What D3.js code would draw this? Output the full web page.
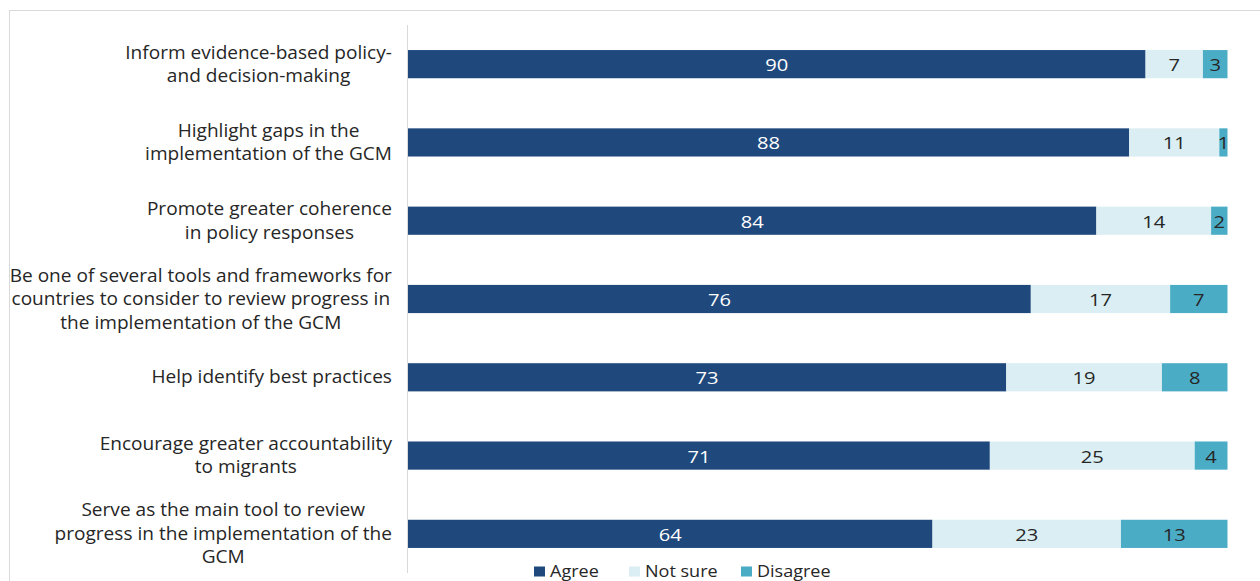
<!DOCTYPE html>
<html>
<head>
<meta charset="utf-8">
<script src="https://cdn.jsdelivr.net/npm/d3@7"></script>
<style>
  html, body { margin: 0; padding: 0; background: #fff; }
  svg { display: block; font-family: "Open Sans", sans-serif; }
</style>
</head>
<body>
<svg id="chart" width="1260" height="581"></svg>
<script>
// Survey statements (each a list of wrapped lines) and the share of responses
const categories = [
  ["Inform evidence-based policy-", "and decision-making"],
  ["Highlight gaps in the", "implementation of the GCM"],
  ["Promote greater coherence", "in policy responses"],
  ["Be one of several tools and frameworks for", "countries to consider to review progress in", "the implementation of the GCM"],
  ["Help identify best practices"],
  ["Encourage greater accountability", "to migrants"],
  ["Serve as the main tool to review", "progress in the implementation of the", "GCM"]
];
const agree    = [90, 88, 84, 76, 73, 71, 64];
const notSure  = [7, 11, 14, 17, 19, 25, 23];
const disagree = [3, 1, 2, 7, 8, 4, 13];
const seriesNames = ["Agree", "Not sure", "Disagree"];
const seriesColors = ["#1f497d", "#daeef3", "#4bacc6"];
const labelColors = ["#ffffff", "#262626", "#262626"];

const svg = d3.select("#chart");

// outer frame
svg.append("rect")
  .attr("x", 9.5).attr("y", 10.5)
  .attr("width", 1300).attr("height", 600)
  .attr("fill", "none").attr("stroke", "#d9d9d9").attr("stroke-width", 1);

const plotLeft = 408, plotRight = 1227.5, plotTop = 25, plotBottom = 573;

const x = d3.scaleLinear().domain([0, 100]).range([plotLeft, plotRight]);
const y = d3.scaleBand()
  .domain(d3.range(categories.length))
  .range([plotTop, plotBottom])
  .paddingInner(0.64)
  .paddingOuter(0.32);

const rows = categories.map((c, i) => ({ i, vals: [agree[i], notSure[i], disagree[i]] }));
const stack = d3.stack().keys([0, 1, 2]).value((d, k) => d.vals[k]);
const layers = stack(rows);

// the typeface is drawn slightly widened
const valueStretch = 1.3, labelStretch = 1.09, legendStretch = 1.1;

const g = svg.append("g");
layers.forEach((layer, k) => {
  const lg = g.append("g");
  lg.selectAll("rect").data(layer).join("rect")
    .attr("x", d => x(d[0]))
    .attr("y", d => y(d.data.i))
    .attr("width", d => x(d[1]) - x(d[0]))
    .attr("height", y.bandwidth())
    .attr("fill", seriesColors[k]);
  lg.selectAll("text").data(layer).join("text")
    .attr("transform", d => `translate(${(x(d[0]) + x(d[1])) / 2},${y(d.data.i) + y.bandwidth() / 2 + 1.5}) scale(${valueStretch},1)`)
    .attr("dy", "0.35em")
    .attr("text-anchor", "middle")
    .attr("font-size", 15.5)
    .attr("fill", labelColors[k])
    .text(d => d.data.vals[k]);
});

// vertical category axis line
svg.append("line")
  .attr("x1", plotLeft - 0.5).attr("x2", plotLeft - 0.5)
  .attr("y1", plotTop).attr("y2", plotBottom)
  .attr("stroke", "#d9d9d9").attr("stroke-width", 1);

// category labels: lines centred on each other, block right-aligned
const lineH = 23.5;
const labelG = svg.append("g").attr("font-size", 17.5).attr("fill", "#262626");
categories.forEach((lines, i) => {
  const cy = y(i) + y.bandwidth() / 2;
  const t = labelG.append("text").attr("text-anchor", "middle");
  const n = lines.length;
  lines.forEach((ln, j) => {
    t.append("tspan").attr("x", 0).attr("y", (j - (n - 1) / 2) * lineH).attr("dy", "0.35em").text(ln);
  });
  // measure widest line, then place the block's right edge at the axis gutter
  const w = d3.max(t.selectAll("tspan").nodes(), nd => nd.getComputedTextLength()) * labelStretch;
  const cx = 392 - w / 2;
  t.attr("transform", `translate(${cx},${cy}) scale(${labelStretch},1)`);
});

// legend
const legendY = 571.5;
const legendX = [534, 629, 741];
const legend = svg.append("g").attr("font-size", 16.4).attr("fill", "#262626");
seriesNames.forEach((name, k) => {
  legend.append("rect").attr("x", legendX[k]).attr("y", legendY - 5)
    .attr("width", 11).attr("height", 10).attr("fill", seriesColors[k]);
  legend.append("text")
    .attr("transform", `translate(${legendX[k] + 16},${legendY}) scale(${legendStretch},1)`)
    .attr("dy", "0.35em").text(name);
});
</script>
</body>
</html>
